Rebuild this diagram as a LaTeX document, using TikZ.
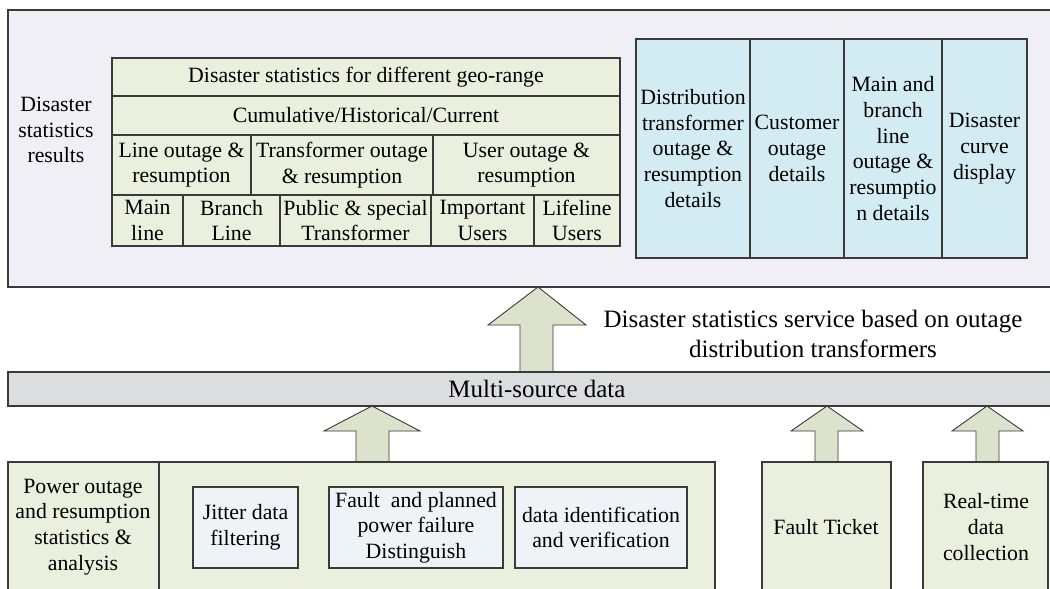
\documentclass[tikz,border=0pt]{standalone}
\usepackage{fontspec}
\setmainfont{Liberation Serif}
\definecolor{outerfill}{HTML}{F0EFF5}
\definecolor{tablefill}{HTML}{EBEFDE}
\definecolor{bluefill}{HTML}{D3EBF2}
\definecolor{barfill}{HTML}{DCDDDF}
\definecolor{arrowfill}{HTML}{DDE2CC}
\definecolor{innerfill}{HTML}{EEF3F8}
\definecolor{bord}{HTML}{3A3A3A}
\newcommand\mysize{\fontsize{21.8}{25.7}\selectfont}
\newcommand\bigsize{\fontsize{25}{30}\selectfont}
\begin{document}
\begin{tikzpicture}[x=1pt,y=-1pt,
  box/.style={draw=bord, line width=1.1pt, inner sep=0pt, outer sep=0pt, align=center, font=\mysize, anchor=north west},
  tcell/.style={box, fill=tablefill},
  bcell/.style={box, fill=bluefill},
  icell/.style={box, fill=innerfill},
  lbl/.style={inner sep=0pt, align=center, font=\mysize},
  blockarrow/.style={draw=bord, line width=0.9pt, fill=arrowfill, line join=miter}]
\useasboundingbox (0,0) rectangle (1050,589);
% top panel
\node[box, fill=outerfill, minimum width=1050pt, minimum height=277pt] (panel) at (8,10) {};
\node[lbl] (reslbl) at (56,130) {Disaster\\statistics\\results};
% table
\node[tcell, minimum width=508pt, minimum height=38pt] (r1) at (112,58) {Disaster statistics for different geo-range};
\node[tcell, minimum width=508pt, minimum height=39pt] (r2) at (112,96) {Cumulative/Historical/Current};
\node[tcell, minimum width=139pt, minimum height=60pt] (r3a) at (112,135) {Line outage \&\\resumption};
\node[tcell, minimum width=182pt, minimum height=60pt] (r3b) at (251,135) {Transformer outage\\\& resumption};
\node[tcell, minimum width=187pt, minimum height=60pt] (r3c) at (433,135) {User outage \&\\resumption};
\node[tcell, minimum width=71pt, minimum height=51pt] (r4a) at (112,195) {Main\\line};
\node[tcell, minimum width=97pt, minimum height=51pt] (r4b) at (183,195) {Branch\\Line};
\node[tcell, minimum width=151pt, minimum height=51pt] (r4c) at (280,195) {Public \& special\\Transformer};
\node[tcell, minimum width=103pt, minimum height=51pt] (r4d) at (431,195) {Important\\Users};
\node[tcell, minimum width=86pt, minimum height=51pt] (r4e) at (534,195) {Lifeline\\Users};
% blue details
\node[bcell, minimum width=114pt, minimum height=219pt] (b1) at (636,39) {Distribution\\transformer\\outage \&\\resumption\\details};
\node[bcell, minimum width=94pt, minimum height=219pt] (b2) at (750,39) {Customer\\outage\\details};
\node[bcell, minimum width=98pt, minimum height=219pt] (b3) at (844,39) {Main and\\branch\\line\\outage \&\\resumptio\\n details};
\node[bcell, minimum width=85pt, minimum height=219pt] (b4) at (942,39) {Disaster\\curve\\display};
% arrows
\draw[blockarrow] (538,287) -- (586,325) -- (553,325) -- (553,372) -- (520,372) -- (520,325) -- (488,325) -- cycle;
\draw[blockarrow] (372,406) -- (420,431) -- (389,431) -- (389,462) -- (356,462) -- (356,431) -- (324,431) -- cycle;
\draw[blockarrow] (827,406) -- (863,431) -- (838,431) -- (838,462) -- (815,462) -- (815,431) -- (791,431) -- cycle;
\draw[blockarrow] (987,406) -- (1023,431) -- (999,431) -- (999,462) -- (976,462) -- (976,431) -- (952,431) -- cycle;
\node[lbl, font=\bigsize] (svc) at (813,334) {Disaster statistics service based on outage\\distribution transformers};
% multi-source bar
\node[box, fill=barfill, minimum width=1058pt, minimum height=34pt, font=\bigsize] (multi) at (8,372) {Multi-source data};
% bottom boxes
\node[tcell, minimum width=707pt, minimum height=140pt] (proc) at (8,462) {};
\draw[draw=bord, line width=1.1pt] (proc.north west) ++(151,0) coordinate (dtop) -- (dtop |- proc.south);
\node[lbl] (powerlbl) at (83,527) {Power outage\\and resumption\\statistics \&\\analysis};
\node[icell, minimum width=105pt, minimum height=81pt] (jitter) at (193,487) {Jitter data\\filtering};
\node[icell, minimum width=174pt, minimum height=81pt] (fault) at (329,487) {Fault~ and planned\\power failure\\Distinguish};
\node[icell, minimum width=172pt, minimum height=81pt] (ident) at (515,487) {data identification\\and verification};
\node[tcell, minimum width=129pt, minimum height=140pt] (ticket) at (762,462) {};
\node[lbl] (ticketlbl) at (826,527) {Fault Ticket};
\node[tcell, minimum width=125pt, minimum height=140pt] (rt) at (923,462) {};
\node[lbl] (rtlbl) at (986,527) {Real-time\\data\\collection};
\end{tikzpicture}
\end{document}
